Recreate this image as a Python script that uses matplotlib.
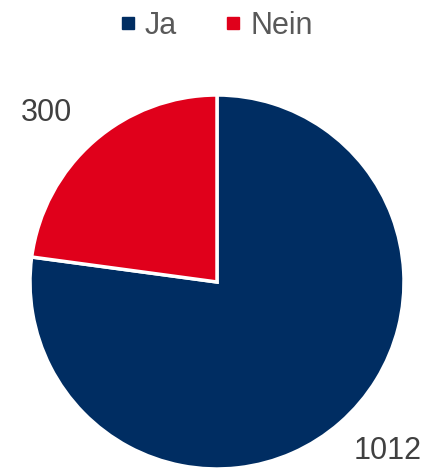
import matplotlib
matplotlib.use('Agg')
import matplotlib.pyplot as plt
from matplotlib.lines import Line2D

categories = ['Ja', 'Nein']
values = [1012, 300]
colors = ['#002D62', '#E0001B']

plt.rcParams['font.family'] = ['Liberation Sans', 'DejaVu Sans']

fig = plt.figure(figsize=(4.33, 4.70), dpi=100)
ax = fig.add_axes([30 / 433, 1 / 470, 374 / 433, 374 / 470])

wedges, texts = ax.pie(values, labels=[str(v) for v in values], colors=colors,
                       startangle=90, counterclock=False, radius=1,
                       labeldistance=1.28,
                       wedgeprops=dict(edgecolor='white', linewidth=2.5),
                       textprops=dict(fontsize=22, color='#404040'))
# nudge labels toward the diagonals, like the original layout
for t in texts:
    x, y = t.get_position()
    t.set_position((x * 1.08, y * 0.94))
    t.set_horizontalalignment('center')
    t.set_verticalalignment('center')

ax.set_xlim(-1, 1)
ax.set_ylim(-1, 1)
ax.set_aspect('equal')
ax.axis('off')

handles = [Line2D([], [], marker='s', linestyle='none', markersize=8,
                  markerfacecolor=c, markeredgecolor=c) for c in colors]
fig.legend(handles, categories, loc='upper center', bbox_to_anchor=(0.5, 1.01),
           ncol=2, frameon=False, fontsize=22, handlelength=0.5,
           handletextpad=0.3, columnspacing=1.6, labelcolor='#595959',
           borderaxespad=0.1)

fig.savefig('out.png', dpi=100)
